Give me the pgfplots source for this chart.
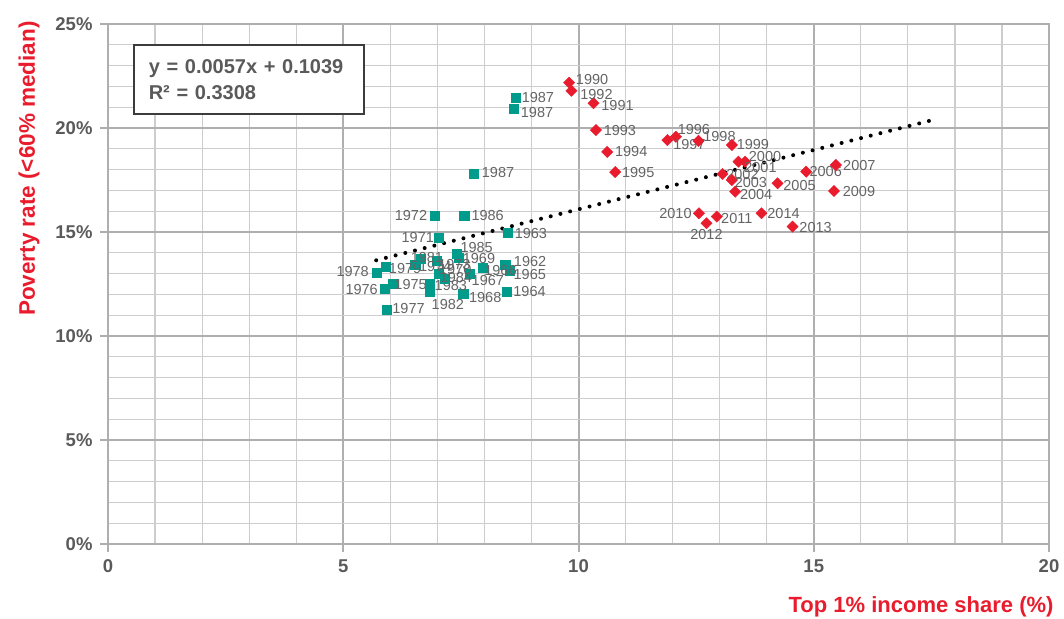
\documentclass[border=0pt]{standalone}
\usepackage{fontspec}
\setmainfont{Liberation Sans}
\usepackage{pgfplots}
\usepackage{pgfplotstable}
\pgfplotsset{compat=1.18}
\usetikzlibrary{calc}

\definecolor{tealc}{RGB}{0,155,138}
\definecolor{redc}{RGB}{233,28,45}
\definecolor{labgray}{RGB}{100,100,100}
\definecolor{tickgray}{RGB}{90,90,90}
\definecolor{gridmaj}{RGB}{175,175,178}
\definecolor{gridmin}{RGB}{205,205,207}
\definecolor{boxgray}{RGB}{60,60,60}
\newcommand{\fs}[1]{\fontsize{#1}{#1}\selectfont}

% x = top 1% share, y = poverty rate (%), label offsets dx/dy in pt
\pgfplotstableread{
x y lab dx dy
8.44 13.41 1962 25 4
8.50 14.97 1963 23 -1
8.47 12.13 1964 23 0
8.54 13.12 1965 20 -3
7.97 13.27 1966 17.5 -2.5
7.69 13.01 1967 18 -7
7.55 12.05 1968 22 -4
7.46 13.75 1969 20 -1
7.03 13.01 1970 16.5 4
7.03 14.73 1971 -21 0
6.95 15.78 1972 -24 0
6.98 13.62 1973 18 -4
6.53 13.43 1974 20 -2
6.06 12.53 1975 17.5 -1
5.88 12.29 1976 -23 -1
5.92 11.28 1977 22 1
5.71 13.03 1978 -24 1
5.91 13.35 1979 19 -2
6.65 13.70 1981 6 2
6.84 12.13 1982 18 -13
6.84 12.53 1983 21 -2.5
7.16 12.77 1984 11 1
7.41 13.97 1985 20 5.7
7.57 15.78 1986 23.5 0
8.67 21.47 1987 22 0
8.63 20.91 1987 23 -3
7.78 17.79 1987 24 1
}\early

\pgfplotstableread{
x y lab dx dy
9.80 22.18 1990 23 3
10.32 21.19 1991 24 -2
9.85 21.79 1992 25 -3.5
10.37 19.90 1993 24 0
10.61 18.85 1994 24 0
10.78 17.88 1995 23 0
12.07 19.58 1996 18 7.7
11.89 19.42 1997 22 -4
12.55 19.38 1998 21 4
13.26 19.18 1999 21 1
13.54 18.38 2000 20 5
13.40 18.38 2001 22 -6
13.06 17.79 2002 20 -1
13.26 17.50 2003 19 -2.5
13.33 16.94 2004 21 -2.5
14.23 17.34 2005 22 -1.7
14.84 17.90 2006 19.5 0
15.47 18.22 2007 23.5 0
15.43 16.97 2009 25 -0.7
12.56 15.90 2010 -23.5 0
12.94 15.74 2011 20 -2.3
12.72 15.42 2012 0 -11
14.55 15.26 2013 23 -1
13.89 15.90 2014 22 0
}\late

\pgfplotsset{yearlabels/.style={
    nodes near coords,
    point meta=explicit symbolic,
    visualization depends on={\thisrow{dx}\as\ldx},
    visualization depends on={\thisrow{dy}\as\ldy},
    nodes near coords style={anchor=center, inner sep=0pt, xshift=\ldx pt, yshift=\ldy pt,
        font=\fs{14.5}, text=labgray},
}}

\begin{document}
\begin{tikzpicture}
\begin{axis}[
    name=ax,
    scale only axis,
    width=941pt, height=520pt,
    xmin=0, xmax=20, ymin=0, ymax=25,
    xtick={0,5,...,20}, ytick={0,5,...,25},
    minor x tick num=4, minor y tick num=4,
    grid=both,
    major grid style={gridmaj, line width=2pt},
    minor grid style={gridmin, line width=1.2pt},
    axis line style={gridmaj, line width=2.4pt},
    tick align=outside, major tick length=8pt, minor tick length=0pt,
    tick style={gridmaj, line width=2pt},
    xtick pos=left, ytick pos=left,
    /pgf/number format/assume math mode=true,
    ticklabel style={font=\bfseries\fs{18.5}, text=tickgray},
    xticklabel style={yshift=-4pt},
    yticklabel style={xshift=-4pt},
    yticklabel={\pgfmathprintnumber{\tick}\%},
    clip=false,
]
% trend line
\addplot[black, line width=4pt, dash pattern=on 0pt off 10pt, line cap=round]
    coordinates {(5.70,13.64) (17.47,20.35)};

\addplot[only marks, mark=square*, mark size=4.6pt, color=tealc, yearlabels] table[meta=lab] {\early};
\addplot[only marks, mark=square*, mark size=4pt, mark options={rotate=45}, color=redc, yearlabels] table[meta=lab] {\late};

\node[draw=boxgray, line width=1.5pt, fill=white, anchor=north west, minimum height=69pt,
      inner xsep=15pt, text width=200pt, align=left, text=tickgray,
      font=\bfseries\fontsize{20}{26}\selectfont]
    at (axis description cs:0.0266,0.9615) {y = 0.0057x + 0.1039\\R² = 0.3308};

\node[rotate=90, anchor=east, font=\bfseries\fs{22.5}, text=redc]
    at (axis description cs:-0.084,1.012) {Poverty rate (<60\% median)};
\node[anchor=east, font=\bfseries\fs{22}, text=redc]
    at (axis description cs:1.0085,-0.121) {Top 1\% income share (\%)};
\end{axis}
\pgfresetboundingbox
\path[use as bounding box] ($(ax.south west)+(-108pt,-75pt)$) rectangle ($(ax.north east)+(15pt,24pt)$);
\end{tikzpicture}
\end{document}
